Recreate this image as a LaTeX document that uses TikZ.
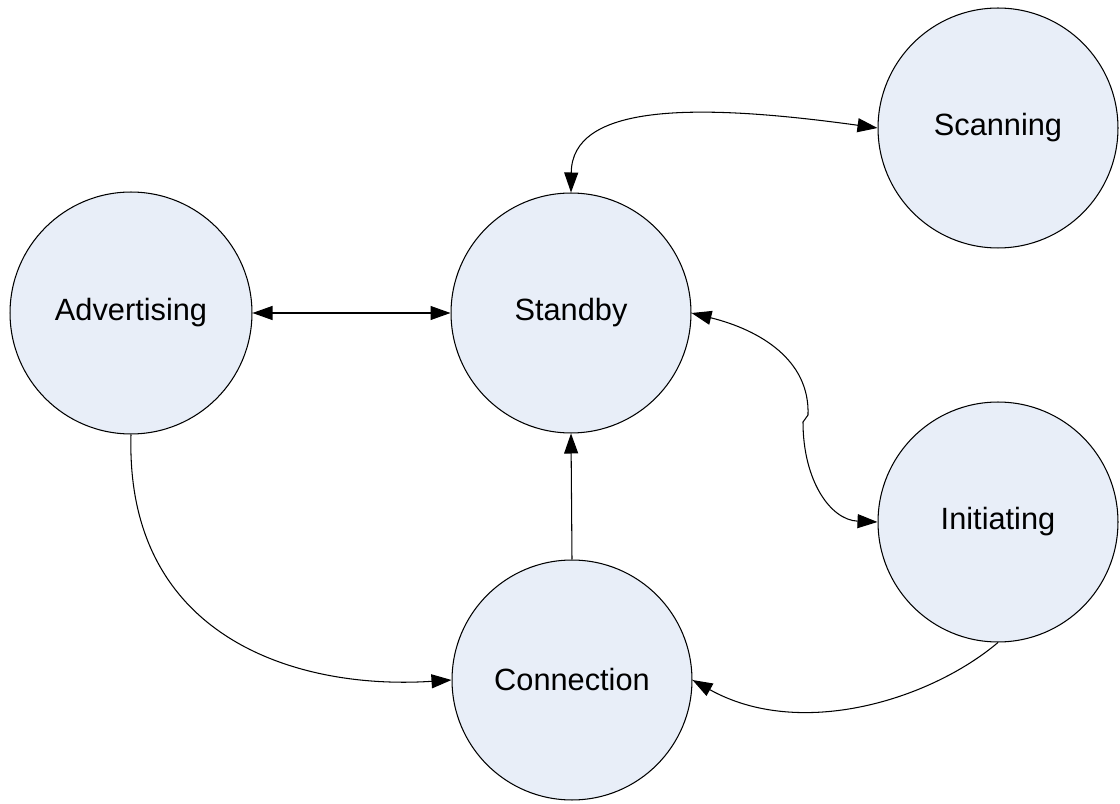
\documentclass[tikz,border=0pt]{standalone}
\usepackage{fontspec}
\setmainfont{Liberation Sans}
\usetikzlibrary{arrows.meta}
\definecolor{statefill}{RGB}{232,238,248}

\begin{document}
\begin{tikzpicture}[x=0.02cm,y=-0.02cm,
  state/.style={circle,draw=black,line width=0.6pt,fill=statefill,minimum size=4.8cm,inner sep=0pt,font=\fontsize{17.5}{21}\selectfont},
  link/.style={line width=0.6pt,-{Triangle[length=0.4cm,width=0.28cm]}},
  biglink/.style={line width=0.6pt,{Triangle[length=0.4cm,width=0.28cm]}-{Triangle[length=0.4cm,width=0.28cm]}}]
\useasboundingbox (0,0) rectangle (1120,804);
\node[state] (scanning) at (998,128) {Scanning};
\node[state,minimum size=4.84cm] (advertising) at (131,313) {Advertising};
\node[state] (standby) at (571,313) {Standby};
\node[state] (initiating) at (998,522) {Initiating};
\node[state] (connection) at (572,680) {Connection};
\coordinate (k1) at (808,415);
\coordinate (k2) at (803,422);
\draw[biglink] (standby.north) .. controls (572,105) and (690,102) .. (scanning.west);
\draw[biglink] (advertising.east) -- (standby.west);
\draw[link] (connection.north) -- (standby.south);
\draw[link] (advertising.south) .. controls (125,640) and (300,690) .. (connection.west);
\draw[link] (initiating.south) .. controls (930,700) and (800,740) .. (connection.east);
\draw[biglink] (standby.east) .. controls (760,330) and (810,360) .. (k1) -- (k2) .. controls (803,480) and (830,520) .. (initiating.west);
\end{tikzpicture}
\end{document}
